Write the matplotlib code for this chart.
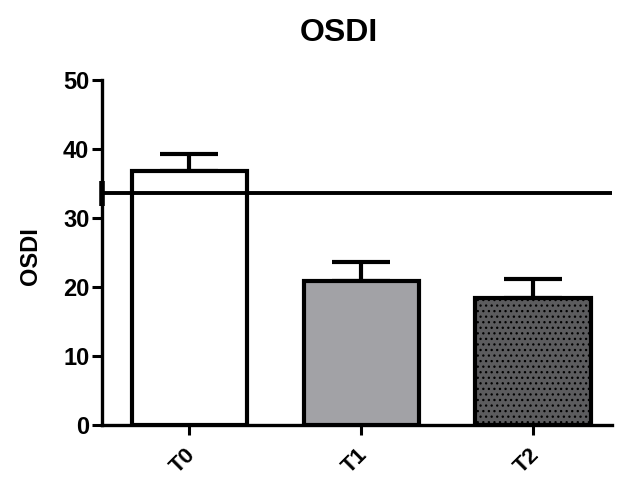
import matplotlib.pyplot as plt
import matplotlib.transforms as mtransforms

plt.rcParams['font.family'] = ['Liberation Sans', 'DejaVu Sans']
plt.rcParams['font.weight'] = 'bold'
plt.rcParams['hatch.linewidth'] = 0.9

# data
groups = ['T0', 'T1', 'T2']
means = [36.8, 20.8, 18.4]
sems = [2.4, 2.8, 2.8]
ref_line = 33.6
fills = ['white', '#a2a2a6', '#5c5c5e']
hatches = ['', '', '...']

fig = plt.figure(figsize=(6.17, 4.79), dpi=100)
ax = fig.add_axes([0.165, 0.113, 0.827, 0.72])

x = list(range(len(groups)))
bars = ax.bar(x, means, width=0.67, color=fills, edgecolor='black',
              linewidth=3, zorder=2)
for b, h in zip(bars, hatches):
    b.set_hatch(h)

ax.errorbar(x, means, yerr=[[0] * len(sems), sems], fmt='none',
            ecolor='black', elinewidth=3, capsize=21, capthick=3, zorder=1)

ax.axhline(ref_line, color='black', linewidth=2.8, zorder=3)
ax.plot([-0.51], [ref_line], marker='|', markersize=18, markeredgewidth=4,
        color='black', clip_on=False, zorder=4)

ax.set_xlim(-0.51, 2.46)
ax.set_ylim(0, 50)
ax.set_yticks([0, 10, 20, 30, 40, 50])
ax.set_xticks(x)
ax.set_xticklabels(groups, rotation=45, fontsize=16, fontweight='bold')
ax.tick_params(axis='y', labelsize=17, width=2.2, length=7, pad=2)
ax.tick_params(axis='x', width=2.2, length=7, pad=7)
for lab in ax.get_yticklabels():
    lab.set_fontweight('bold')
# nudge rotated labels a bit to the left, like the original
shift = mtransforms.ScaledTranslation(-6 / 100, 0, fig.dpi_scale_trans)
for lab in ax.get_xticklabels():
    lab.set_transform(lab.get_transform() + shift)

for s in ['top', 'right']:
    ax.spines[s].set_visible(False)
for s in ['left', 'bottom']:
    ax.spines[s].set_linewidth(2.4)

ax.set_ylabel('OSDI', fontsize=17, fontweight='bold')
ax.yaxis.set_label_coords(-0.118, 0.49)
ax.set_title('OSDI', fontsize=23, fontweight='bold', pad=28, x=0.465)

fig.savefig('out.png', dpi=100)
